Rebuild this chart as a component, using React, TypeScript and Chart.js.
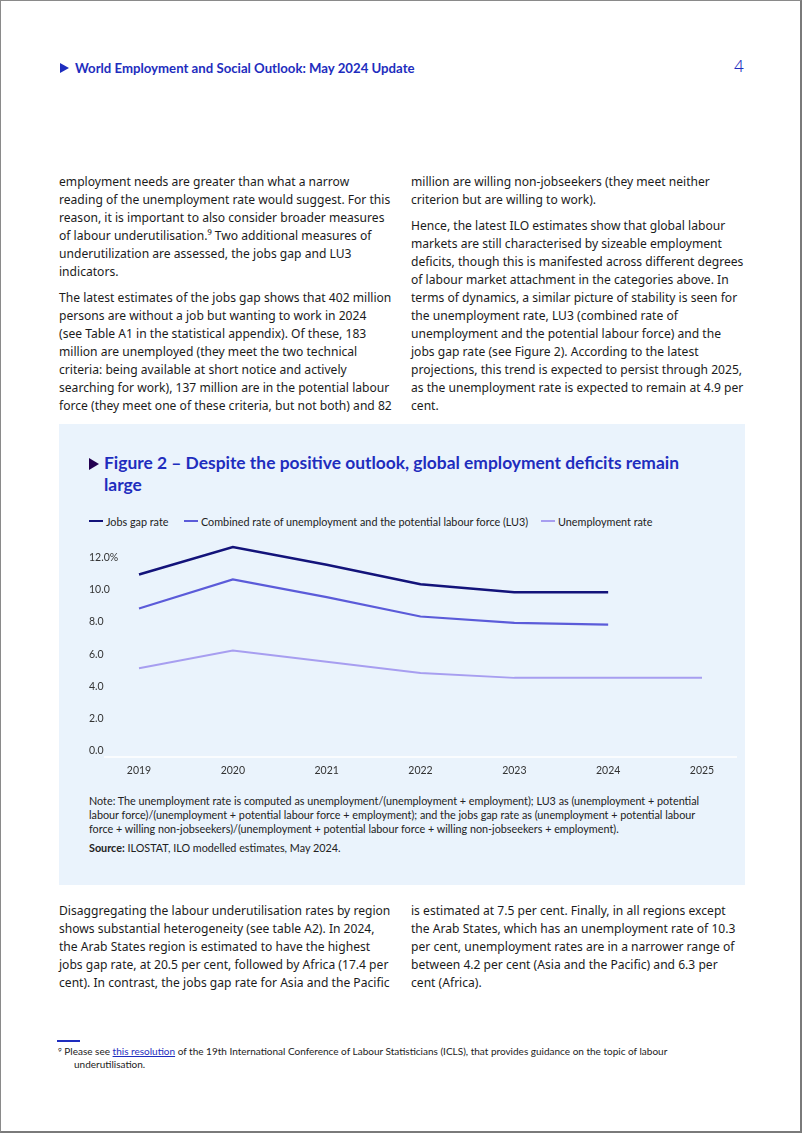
import React, { useEffect, useRef } from "react";
import { Chart, registerables } from "chart.js";

Chart.register(...registerables);

// ---- Data ----
const years = ["2019", "2020", "2021", "2022", "2023", "2024", "2025"];
const jobsGapRate = [11.3, 13.0, 11.9, 10.7, 10.2, 10.2, null];
const lu3Rate = [9.2, 11.0, 9.9, 8.7, 8.3, 8.2, null];
const unemploymentRate = [5.5, 6.6, 5.9, 5.2, 4.9, 4.9, 4.9];
const yTickValues = [0, 2, 4, 6, 8, 10, 12];
const yTickLabels = ["0.0", "2.0", "4.0", "6.0", "8.0", "10.0", "12.0%"];
const seriesNames = [
  "Jobs gap rate",
  "Combined rate of unemployment and the potential labour force (LU3)",
  "Unemployment rate",
];
const seriesColors = ["#13137a", "#5b5bd9", "#a79ef0"];
const seriesWidths = [2.5, 2.2, 2];

// ---- Text ----
const leftPara1 = [
  "employment needs are greater than what a narrow",
  "reading of the unemployment rate would suggest. For this",
  "reason, it is important to also consider broader measures",
  "of labour underutilisation.\u2079 Two additional measures of",
  "underutilization are assessed, the jobs gap and LU3",
  "indicators.",
];
const leftPara2 = [
  "The latest estimates of the jobs gap shows that 402 million",
  "persons are without a job but wanting to work in 2024",
  "(see Table A1 in the statistical appendix). Of these, 183",
  "million are unemployed (they meet the two technical",
  "criteria: being available at short notice and actively",
  "searching for work), 137 million are in the potential labour",
  "force (they meet one of these criteria, but not both) and 82",
];
const rightPara1 = [
  "million are willing non-jobseekers (they meet neither",
  "criterion but are willing to work).",
];
const rightPara2 = [
  "Hence, the latest ILO estimates show that global labour",
  "markets are still characterised by sizeable employment",
  "deficits, though this is manifested across different degrees",
  "of labour market attachment in the categories above. In",
  "terms of dynamics, a similar picture of stability is seen for",
  "the unemployment rate, LU3 (combined rate of",
  "unemployment and the potential labour force) and the",
  "jobs gap rate (see Figure 2). According to the latest",
  "projections, this trend is expected to persist through 2025,",
  "as the unemployment rate is expected to remain at 4.9 per",
  "cent.",
];
const bottomLeft = [
  "Disaggregating the labour underutilisation rates by region",
  "shows substantial heterogeneity (see table A2). In 2024,",
  "the Arab States region is estimated to have the highest",
  "jobs gap rate, at 20.5 per cent, followed by Africa (17.4 per",
  "cent). In contrast, the jobs gap rate for Asia and the Pacific",
];
const bottomRight = [
  "is estimated at 7.5 per cent. Finally, in all regions except",
  "the Arab States, which has an unemployment rate of 10.3",
  "per cent, unemployment rates are in a narrower range of",
  "between 4.2 per cent (Asia and the Pacific) and 6.3 per",
  "cent (Africa).",
];
const noteLines = [
  "Note: The unemployment rate is computed as unemployment/(unemployment + employment); LU3 as (unemployment + potential",
  "labour force)/(unemployment + potential labour force + employment); and the jobs gap rate as (unemployment + potential labour",
  "force + willing non-jobseekers)/(unemployment + potential labour force + willing non-jobseekers + employment).",
];

const BLUE = "#1e2dbe";
const BODY_FONT = "'Noto Sans', 'Open Sans', sans-serif";
const COND_FONT = "Lato, 'Noto Sans', sans-serif";

const abs = (left: number, top: number, extra: React.CSSProperties = {}): React.CSSProperties => ({
  position: "absolute",
  left,
  top,
  ...extra,
});

function Para({ lines, left, top }: { lines: string[]; left: number; top: number }) {
  return (
    <div
      style={abs(left, top, {
        fontFamily: BODY_FONT,
        fontSize: 12.1,
        lineHeight: "18px",
        color: "#1b1b1b",
        whiteSpace: "nowrap",
      })}
    >
      {lines.map((l, i) => (
        <div key={i}>{l}</div>
      ))}
    </div>
  );
}

const baselinePlugin = {
  id: "baseline",
  beforeDatasetsDraw(chart: any) {
    const { ctx, chartArea, scales } = chart;
    const y = scales.y.getPixelForValue(0);
    ctx.save();
    ctx.strokeStyle = "#ffffff";
    ctx.lineWidth = 1.5;
    ctx.beginPath();
    ctx.moveTo(chartArea.left - 35, y);
    ctx.lineTo(chartArea.right + 35, y);
    ctx.stroke();
    ctx.restore();
  },
};

function LineChart() {
  const ref = useRef<HTMLCanvasElement | null>(null);
  useEffect(() => {
    if (!ref.current) return;
    const seriesData = [jobsGapRate, lu3Rate, unemploymentRate];
    const chart = new Chart(ref.current, {
      type: "line",
      data: {
        labels: years,
        datasets: seriesData.map((d, i) => ({
          label: seriesNames[i],
          data: d as any,
          borderColor: seriesColors[i],
          backgroundColor: seriesColors[i],
          borderWidth: seriesWidths[i],
          pointRadius: 0,
          tension: 0,
          fill: false,
          spanGaps: false,
        })),
      },
      options: {
        responsive: false,
        animation: false,
        layout: { padding: { top: 10, right: 43, bottom: 0, left: 0 } },
        plugins: {
          legend: { display: false },
          tooltip: { enabled: false },
          title: { display: false },
        },
        scales: {
          x: {
            type: "category",
            offset: false,
            grid: { display: false, drawTicks: false },
            border: { display: false },
            ticks: {
              color: "#333333",
              font: { family: "Lato, 'Noto Sans', sans-serif", size: 10.5 },
              padding: 7,
              maxRotation: 0,
              autoSkip: false,
            },
            afterFit: (scale: any) => {
              scale.height = 22;
            },
          },
          y: {
            type: "linear",
            min: 0,
            max: 13.5,
            grid: { display: false, drawTicks: false },
            border: { display: false },
            afterBuildTicks: (scale: any) => {
              scale.ticks = yTickValues.map((v) => ({ value: v }));
            },
            afterFit: (scale: any) => {
              scale.width = 50;
            },
            ticks: {
              color: "#333333",
              font: { family: "Lato, 'Noto Sans', sans-serif", size: 10.5 },
              crossAlign: "far",
              labelOffset: -6,
              callback: (value: any) => {
                const idx = yTickValues.indexOf(Number(value));
                return idx >= 0 ? yTickLabels[idx] : "";
              },
            },
          },
        },
      },
      plugins: [baselinePlugin],
    });
    return () => chart.destroy();
  }, []);
  return (
    <canvas
      ref={ref}
      width={656}
      height={250}
      style={abs(88, 528, { width: 656, height: 250 })}
    />
  );
}

export default function App() {
  const legendPos = [88, 183, 540];
  return (
    <div
      style={{
        position: "absolute",
        left: 0,
        top: 0,
        width: 802,
        height: 1133,
        boxSizing: "border-box",
        background: "#ffffff",
        borderTop: "1px solid #8a8a8a",
        borderLeft: "1px solid #8a8a8a",
        borderRight: "2px solid #7a7a7a",
        borderBottom: "2px solid #7a7a7a",
        overflow: "hidden",
      }}
    >
      {/* Header */}
      <div
        style={abs(59, 62, {
          width: 0,
          height: 0,
          borderTop: "5px solid transparent",
          borderBottom: "5px solid transparent",
          borderLeft: `9px solid ${BLUE}`,
        })}
      />
      <div
        style={abs(74, 59, {
          fontFamily: COND_FONT,
          fontWeight: 700,
          fontSize: 13.2,
          lineHeight: "16px",
          color: BLUE,
          whiteSpace: "nowrap",
        })}
      >
        World Employment and Social Outlook: May 2024 Update
      </div>
      <div
        style={abs(733, 55, {
          fontFamily: BODY_FONT,
          fontWeight: 300,
          fontSize: 17,
          lineHeight: "20px",
          color: BLUE,
        })}
      >
        4
      </div>

      {/* Body text top */}
      <Para lines={leftPara1} left={58} top={172} />
      <Para lines={leftPara2} left={58} top={288} />
      <Para lines={rightPara1} left={410} top={172} />
      <Para lines={rightPara2} left={410} top={216} />

      {/* Figure panel */}
      <div style={abs(58, 423, { width: 686, height: 461, background: "#eaf3fc" })} />
      <div
        style={abs(88, 457, {
          width: 0,
          height: 0,
          borderTop: "6px solid transparent",
          borderBottom: "6px solid transparent",
          borderLeft: "10px solid #230050",
        })}
      />
      <div
        style={abs(103, 451, {
          fontFamily: COND_FONT,
          fontWeight: 700,
          fontSize: 17.4,
          lineHeight: "22px",
          color: BLUE,
          whiteSpace: "nowrap",
        })}
      >
        <div>Figure 2 – Despite the positive outlook, global employment deficits remain</div>
        <div>large</div>
      </div>

      {/* Legend */}
      {seriesNames.map((name, i) => (
        <div
          key={name}
          style={abs(legendPos[i], 512, {
            display: "flex",
            alignItems: "center",
            height: 16,
            whiteSpace: "nowrap",
            fontFamily: COND_FONT,
            fontSize: 10.8,
            color: "#222",
          })}
        >
          <span
            style={{
              display: "inline-block",
              width: 14,
              height: 2,
              background: seriesColors[i],
              marginRight: 3,
            }}
          />
          <span>{name}</span>
        </div>
      ))}

      <LineChart />

      {/* Note and source */}
      <div
        style={abs(88, 793, {
          fontFamily: COND_FONT,
          fontSize: 10.8,
          lineHeight: "14px",
          color: "#222",
          whiteSpace: "nowrap",
        })}
      >
        {noteLines.map((l, i) => (
          <div key={i}>{l}</div>
        ))}
      </div>
      <div
        style={abs(88, 840, {
          fontFamily: COND_FONT,
          fontSize: 10.8,
          lineHeight: "14px",
          color: "#222",
          whiteSpace: "nowrap",
        })}
      >
        <b>Source:</b> ILOSTAT, ILO modelled estimates, May 2024.
      </div>

      {/* Body text bottom */}
      <Para lines={bottomLeft} left={58} top={901} />
      <Para lines={bottomRight} left={410} top={901} />

      {/* Footnote */}
      <div style={abs(56, 1039, { width: 23, height: 2, background: BLUE })} />
      <div
        style={abs(57, 1042, {
          fontFamily: COND_FONT,
          fontSize: 10,
          lineHeight: "13px",
          color: "#222",
          whiteSpace: "nowrap",
        })}
      >
        <div>
          <span style={{ fontSize: 6.5, verticalAlign: "3px" }}>9</span> Please see{" "}
          <span style={{ color: BLUE, textDecoration: "underline" }}>this resolution</span> of the 19th
          International Conference of Labour Statisticians (ICLS), that provides guidance on the topic of
          labour
        </div>
        <div style={{ paddingLeft: 16 }}>underutilisation.</div>
      </div>
    </div>
  );
}
